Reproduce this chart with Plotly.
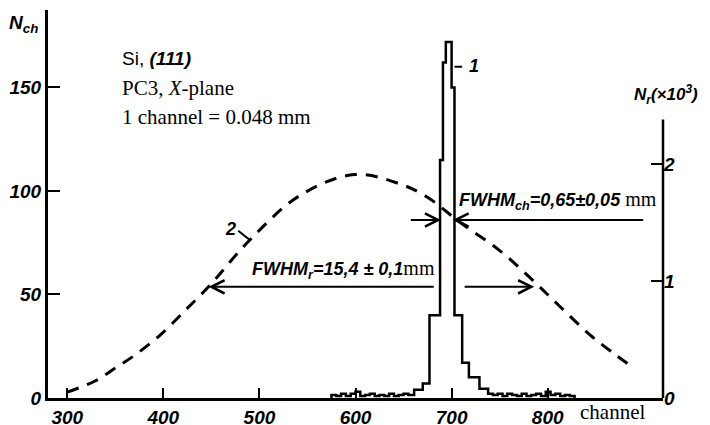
import plotly.graph_objects as go

# ---- data -------------------------------------------------------------
# Curve 1: channel histogram (step outline); bin edges (channel) and counts N_ch
hist_edges = [575, 580, 585, 590, 595, 600, 605, 610, 615, 620, 625, 630, 635, 640,
              645, 650, 655, 661, 670, 677, 688, 691, 694, 700, 703, 711, 718, 729,
              738, 743, 748, 753, 758, 763, 768, 773, 778, 783, 788, 793, 798, 803,
              808, 813, 818, 823, 828]
hist_counts = [1.5, 1, 2, 1, 2, 3, 1, 1.5, 2, 1, 1.5, 1, 2, 1, 1.5, 2, 1.5,
               4, 7, 40, 115, 162, 172, 150, 40, 17, 10, 4.5, 2,
               1.5, 2, 1, 2, 1.5, 1, 2, 1, 1.5, 2, 1, 3, 1.5, 2, 1, 1.5, 1]

# Curve 2: rocking curve N_r (x10^3) vs channel
curve_channels = [300, 329, 350, 371, 397, 423, 447, 490, 542, 599, 646, 674,
                  709, 750, 784, 813, 844, 868, 888]
curve_values = [0.05, 0.145, 0.256, 0.37, 0.54, 0.75, 0.95, 1.35, 1.73, 1.91, 1.83,
                1.72, 1.50, 1.26, 1.01, 0.78, 0.54, 0.385, 0.265]

x_ticks = [300, 400, 500, 600, 700, 800]
left_ticks = [0, 50, 100, 150]
right_ticks = [0, 1, 2]

# FWHM markers (channel positions, levels)
fwhm_r_level = 0.95            # N_r (x10^3)
fwhm_r_left, fwhm_r_right = 447, 786
fwhm_ch_level = 86             # N_ch
fwhm_ch_left, fwhm_ch_right = 689, 701

# ---- figure -----------------------------------------------------------
SANS = "Liberation Sans, Arial, sans-serif"
SERIF = "Liberation Serif, Times New Roman, serif"
tickfont = dict(family=SANS, size=19, color="black", weight="bold", style="italic")

fig = go.Figure()

fig.add_trace(go.Scatter(
    x=[hist_edges[0]] + hist_edges,
    y=[0] + hist_counts + [0],
    mode="lines", line=dict(color="black", width=2.5, shape="hv"),
    yaxis="y", showlegend=False, hoverinfo="skip"))

fig.add_trace(go.Scatter(
    x=curve_channels, y=curve_values,
    mode="lines", line=dict(color="black", width=3, dash="12px,9px", shape="spline"),
    yaxis="y2", showlegend=False, hoverinfo="skip"))

# (page body adds an 8px offset, margins compensate for it)
fig.update_layout(
    width=710, height=425,
    margin=dict(l=40, r=55, t=2, b=35),
    paper_bgcolor="white", plot_bgcolor="white",
    xaxis=dict(range=[280, 920], showline=True, linewidth=3, linecolor="black",
               ticks="inside", ticklen=10, tickwidth=2, tickcolor="black", automargin=False,
               tickvals=x_ticks, showgrid=False, zeroline=False, tickfont=tickfont),
    yaxis=dict(range=[0, 187.4], showline=True, linewidth=3, linecolor="black",
               ticks="inside", ticklen=12, tickwidth=2, tickcolor="black", automargin=False,
               tickvals=left_ticks, showgrid=False, zeroline=False, tickfont=tickfont),
    yaxis2=dict(range=[0, 3.316], overlaying="y", side="right", showline=False,
                ticks="inside", ticklen=12, tickwidth=2, tickcolor="black", automargin=False,
                tickvals=right_ticks, showgrid=False, zeroline=False, tickfont=tickfont),
)

# partial right axis line
fig.add_shape(type="line", xref="paper", yref="y2", x0=1, x1=1, y0=0, y1=2.38,
              line=dict(color="black", width=2.5))

# FWHM_r arrows (interrupted by the peak)
arrow = dict(showarrow=True, arrowhead=5, arrowsize=1.3, arrowwidth=2,
             arrowcolor="black", text="")
fig.add_annotation(x=fwhm_r_left, y=fwhm_r_level, ax=683, ay=fwhm_r_level,
                   xref="x", yref="y2", axref="x", ayref="y2", **arrow)
fig.add_annotation(x=fwhm_r_right, y=fwhm_r_level, ax=712, ay=fwhm_r_level,
                   xref="x", yref="y2", axref="x", ayref="y2", **arrow)
# FWHM_ch arrows
fig.add_annotation(x=fwhm_ch_left, y=fwhm_ch_level, ax=656, ay=fwhm_ch_level,
                   xref="x", yref="y", axref="x", ayref="y", **arrow)
fig.add_annotation(x=fwhm_ch_right, y=fwhm_ch_level, ax=901, ay=fwhm_ch_level,
                   xref="x", yref="y", axref="x", ayref="y", **arrow)

# leader lines for curve labels
fig.add_shape(type="line", xref="x", yref="y", x0=703, x1=711, y0=160, y1=160,
              line=dict(color="black", width=2))
fig.add_shape(type="line", xref="x", yref="y2", x0=478, x1=490, y0=1.43, y1=1.35,
              line=dict(color="black", width=2))

bi = dict(family=SANS, size=18, color="black", weight="bold", style="italic")
serif = dict(family=SERIF, size=21, color="black")

def txt(x, y, text, font, xanchor="left", yanchor="middle"):
    fig.add_annotation(x=x, y=y, xref="paper", yref="paper", text=text, font=font,
                       showarrow=False, xanchor=xanchor, yanchor=yanchor)

NORMAL_SANS = "<span style='font-family:Liberation Sans;font-style:normal;font-weight:normal'>"
NORMAL_SERIF = "<span style='font-family:Liberation Serif;font-style:normal;font-weight:normal;font-size:20px'>"

txt(-0.04, 0.963, "N<sub>ch</sub>", dict(family=SANS, size=19, color="black", weight="bold", style="italic"), xanchor="center")
txt(0.117, 0.876, NORMAL_SANS + "Si,</span> (111)", dict(family=SANS, size=19, color="black", weight="bold", style="italic"))
txt(0.117, 0.799, "PC3, <i>X</i>-plane", serif)
txt(0.117, 0.724, "1 channel = 0.048 mm", serif)
txt(0.95, 0.782, "N<sub>r</sub>(×10<sup>3</sup>)", dict(family=SANS, size=17, color="black", weight="bold", style="italic"))
txt(0.682, 0.855, "1", bi)
txt(0.285, 0.435, "2", bi)
txt(0.665, 0.51, "FWHM<sub>ch</sub>=0,65±0,05 " + NORMAL_SERIF + "mm</span>", bi)
txt(0.328, 0.33, "FWHM<sub>r</sub>=15,4 ± 0,1" + NORMAL_SERIF + "mm</span>", bi)
txt(0.862, -0.035, "channel", serif)

fig.write_html("out.html")
